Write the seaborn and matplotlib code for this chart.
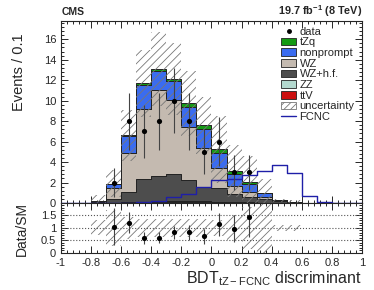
import numpy as np
import pandas as pd
import matplotlib
matplotlib.use("Agg")
from matplotlib import pyplot as plt
from matplotlib.patches import Patch
from matplotlib.lines import Line2D
from matplotlib.ticker import MultipleLocator, FixedLocator
import seaborn as sns

# binning of the BDT output
edges = [round(-1.0 + 0.1 * i, 2) for i in range(21)]
centers = [round(-0.95 + 0.1 * i, 3) for i in range(20)]

# stacked backgrounds (events per bin), bins -1.0 ... 0.9
ttV = [0, 0, 0, 0, 0, 0.02, 0.10, 0.12, 0.12, 0.10, 0.08, 0.05, 0.03, 0.02, 0, 0, 0, 0, 0, 0]
ZZ = [0, 0, 0, 0.02, 0.05, 0.08, 0.08, 0.08, 0.07, 0.06, 0.05, 0.04, 0.03, 0.02, 0.01, 0, 0, 0, 0, 0]
WZhf = [0, 0, 0.10, 0.34, 1.05, 2.25, 2.42, 2.65, 2.01, 1.44, 1.37, 0.81, 0.54, 0.32, 0.19, 0.08, 0, 0, 0, 0]
WZ = [0, 0, 0.05, 1.09, 3.75, 6.85, 8.40, 7.20, 5.25, 3.73, 1.88, 0.76, 0.50, 0.19, 0.05, 0.02, 0, 0, 0, 0]
nonprompt = [0, 0, 0, 0.40, 1.72, 2.30, 1.90, 1.85, 1.95, 1.87, 1.52, 1.17, 0.75, 0.39, 0.02, 0.02, 0, 0, 0, 0]
tZq = [0, 0, 0, 0.05, 0.03, 0.20, 0.17, 0.20, 0.33, 0.40, 0.34, 0.29, 0.23, 0.03, 0.01, 0, 0, 0, 0, 0]

# total uncertainty (absolute, main panel) and relative (ratio panel)
unc_abs = [0, 0, 0.40, 1.30, 2.50, 3.30, 3.60, 3.50, 3.20, 2.80, 3.30, 2.50, 2.30, 1.15, 0.15, 0.15, 0, 0, 0, 0]
unc_rel = [0, 0, 0.30, 0.73, 0.43, 0.35, 0.35, 0.35, 0.35, 0.35, 0.33, 0.50, 0.83, 1.00, 0.13, 0.13, 0, 0, 0, 0]

# FCNC signal shape
fcnc = [0, 0, 0, 0, 0.02, 0.05, 0.15, 0.55, 0.90, 1.55, 2.20, 2.30, 2.70, 3.10, 3.70, 2.95, 0.72, 0.13, 0.03, 0]

# data
data_x = [-0.65, -0.55, -0.45, -0.35, -0.25, -0.15, -0.05, 0.05, 0.15, 0.25]
data_y = [2, 8, 7, 8, 10, 8, 5, 6, 3, 3]
data_err = [1.4, 2.8, 2.6, 2.8, 3.2, 2.8, 2.2, 2.4, 1.7, 1.7]

processes = ["tZq", "nonprompt", "WZ", "WZ+h.f.", "ZZ", "ttV"]
colors = {"tZq": "#139a13", "nonprompt": "#3a6cf0", "WZ": "#c4bab0",
          "WZ+h.f.": "#4d4d4d", "ZZ": "#b3d9cf", "ttV": "#cc1010"}
values = {"tZq": tZq, "nonprompt": nonprompt, "WZ": WZ,
          "WZ+h.f.": WZhf, "ZZ": ZZ, "ttV": ttV}

rows = []
for p in processes:
    for c, v in zip(centers, values[p]):
        rows.append({"bdt": c, "events": v, "process": p})
df = pd.DataFrame(rows)

total = np.sum([values[p] for p in processes], axis=0)
unc_abs = np.array(unc_abs)
unc_rel = np.array(unc_rel)

sns.set_style("ticks")
plt.rcParams["font.family"] = ["Liberation Sans", "DejaVu Sans"]
plt.rcParams["mathtext.fontset"] = "custom"
plt.rcParams["mathtext.rm"] = "Liberation Sans"
plt.rcParams["mathtext.it"] = "Liberation Sans:italic"
plt.rcParams["mathtext.bf"] = "Liberation Sans:bold"
plt.rcParams["hatch.linewidth"] = 0.6

fig = plt.figure(figsize=(3.74, 2.90), dpi=100)
ax = fig.add_axes([0.163, 0.30, 0.805, 0.628])
rax = fig.add_axes([0.163, 0.128, 0.805, 0.172], sharex=ax)

sns.histplot(data=df, x="bdt", weights="events", hue="process",
             hue_order=processes, palette=colors, bins=edges,
             multiple="stack", element="step", fill=True, alpha=1,
             edgecolor="#222222", linewidth=0.7, legend=False, ax=ax)

# uncertainty hatch
ax.bar(centers, 2 * unc_abs, bottom=np.clip(total - unc_abs, 0, None), width=0.1,
       fill=False, hatch="////", edgecolor="#777777", linewidth=0, zorder=3)

# FCNC signal
sns.histplot(x=centers, weights=fcnc, bins=edges, element="step", fill=False,
             color="#1f1fa8", linewidth=1.0, ax=ax, zorder=4)

# data
ax.errorbar(data_x, data_y, yerr=data_err, fmt="none", ecolor="#444444",
            elinewidth=0.8, zorder=5)
sns.scatterplot(x=data_x, y=data_y, color="black", s=14, linewidth=0,
                ax=ax, zorder=6)

ax.set_xlim(-1, 1)
ax.set_ylim(0, 17.8)
ax.set_ylabel("Events / 0.1", fontsize=10.5)
ax.yaxis.set_label_coords(-0.115, 0.72)
ax.set_xlabel("")
ax.yaxis.set_major_locator(MultipleLocator(2))
ax.yaxis.set_minor_locator(MultipleLocator(0.4))
ax.xaxis.set_major_locator(MultipleLocator(0.2))
ax.xaxis.set_minor_locator(MultipleLocator(0.04))
ax.tick_params(axis="x", labelbottom=False)

# ratio panel
idx = [centers.index(x) for x in data_x]
ratio = np.array(data_y) / total[idx]
ratio_err = np.array(data_err) / total[idx]
rax.bar(centers, 2 * unc_rel, bottom=1 - unc_rel, width=0.1, fill=False,
        hatch="////", edgecolor="#777777", linewidth=0, zorder=2)
for yl in [0.5, 1.0, 1.5]:
    rax.axhline(yl, color="#555555", linestyle=":", linewidth=0.8, zorder=1)
rax.errorbar(data_x, ratio, yerr=ratio_err, fmt="none", ecolor="#444444",
             elinewidth=0.8, zorder=4)
sns.scatterplot(x=data_x, y=ratio, color="black", s=14, linewidth=0,
                ax=rax, zorder=5)
rax.set_ylim(0, 2)
rax.set_ylabel("Data/SM", fontsize=10)
rax.yaxis.set_label_coords(-0.105, 0.48)
rax.yaxis.set_major_locator(FixedLocator([0, 0.5, 1, 1.5]))
rax.yaxis.set_minor_locator(MultipleLocator(0.1))
rax.set_yticklabels(["0", "0.5", "1", "1.5"])
rax.set_xticks([round(-1 + 0.2 * i, 1) for i in range(11)])
rax.set_xticklabels(["-1", "-0.8", "-0.6", "-0.4", "-0.2", "0", "0.2",
                     "0.4", "0.6", "0.8", "1"])
rax.set_xlabel(r"BDT$_{\rm tZ-FCNC}$ discriminant", fontsize=11.5, loc="right",
               labelpad=1)

for a in (ax, rax):
    a.tick_params(which="both", direction="in", top=True, right=True,
                  labelsize=8, width=0.7)
    a.tick_params(which="major", length=5)
    a.tick_params(which="minor", length=2.5)
    for s in a.spines.values():
        s.set_linewidth(0.8)

fig.text(0.165, 0.948, "CMS", fontsize=7.5, fontweight="bold", va="baseline")
fig.text(0.968, 0.948, r"19.7 fb$^{\mathbf{-1}}$ (8 TeV)", fontsize=7.8,
         fontweight="bold", ha="right", va="baseline")

handles = [Line2D([], [], marker="o", color="black", ms=2.5, ls="none")]
for p in processes:
    handles.append(Patch(facecolor=colors[p], edgecolor="#222222", linewidth=0.6))
handles.append(Patch(facecolor="white", edgecolor="#777777", hatch="/////",
                     linewidth=0.6))
handles.append(Line2D([], [], color="#1f1fa8", linewidth=1.0))
labels = ["data"] + processes + ["uncertainty", "FCNC"]
fig.legend(handles, labels, loc="upper left", bbox_to_anchor=(0.752, 0.908),
           frameon=False, fontsize=8, labelspacing=0.06, handlelength=1.35,
           handleheight=0.7, handletextpad=0.3, borderaxespad=0, borderpad=0)

fig.savefig("out.png", dpi=100)
